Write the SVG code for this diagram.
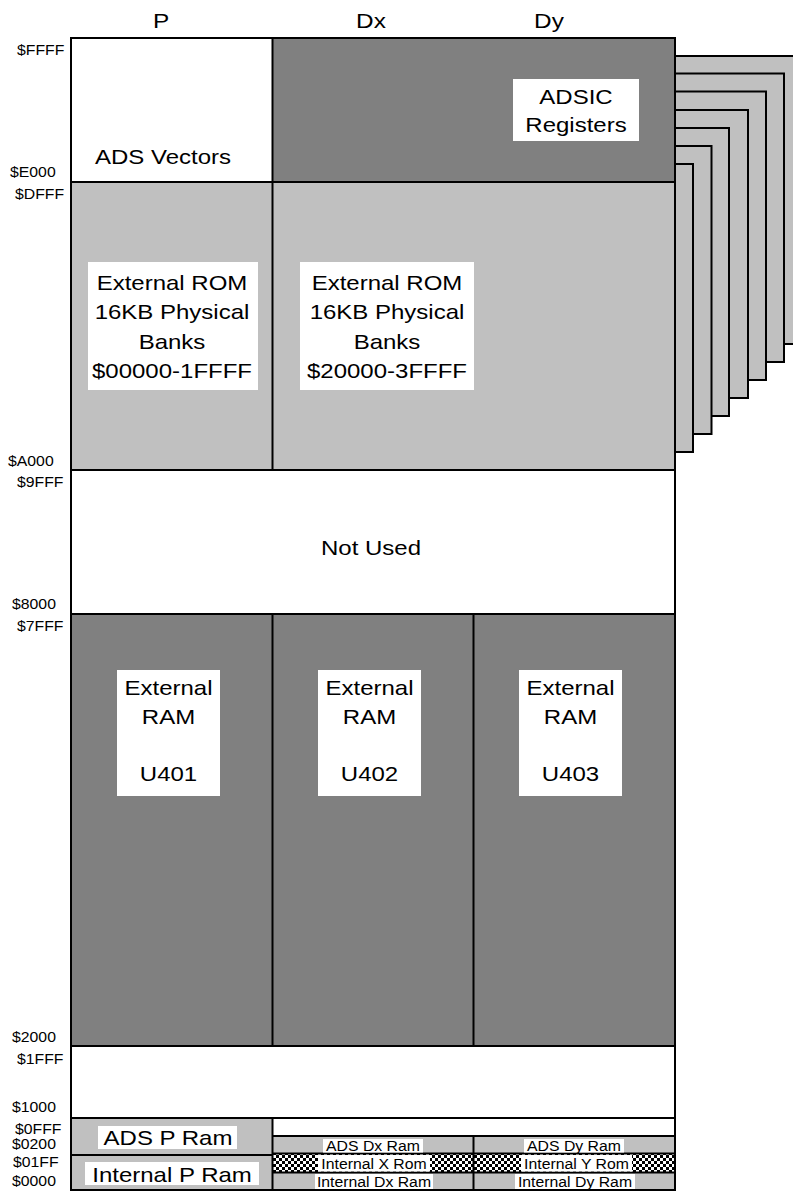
<svg xmlns="http://www.w3.org/2000/svg" width="793" height="1192" viewBox="0 0 793 1192">
<style>
text{font-family:"Liberation Sans",Arial,sans-serif;fill:#000}
.m{font-size:20px;text-anchor:middle}
.h{font-size:21px;text-anchor:middle}
.a{font-size:14.5px;text-anchor:start}
.s{font-size:14.5px;text-anchor:middle}
.pg{fill:#c0c0c0;stroke:#000;stroke-width:2}
.lb{fill:#fff}
.ln{fill:none;stroke:#000;stroke-width:2}
</style>
<defs>
<pattern id="chk" patternUnits="userSpaceOnUse" width="6" height="6">
<rect width="6" height="6" fill="#000"/>
<rect x="0" y="0" width="3" height="3" fill="#fff"/>
<rect x="3" y="3" width="3" height="3" fill="#fff"/>
</pattern>
</defs>
<g id="pages">
<rect class="pg" x="500" y="56" width="302" height="288"/>
<rect class="pg" x="480" y="73.5" width="304" height="288.5"/>
<rect class="pg" x="460" y="91.5" width="306" height="288.5"/>
<rect class="pg" x="440" y="110" width="308" height="288"/>
<rect class="pg" x="420" y="128" width="309" height="288"/>
<rect class="pg" x="400" y="146" width="311.5" height="288"/>
<rect class="pg" x="380" y="164" width="313" height="288"/>
</g>
<g id="fills">
<rect x="71" y="38" width="201.5" height="144" fill="#fff"/>
<rect x="272.5" y="38" width="402.5" height="144" fill="#808080"/>
<rect x="71" y="182" width="604" height="288" fill="#c0c0c0"/>
<rect x="71" y="470" width="604" height="144" fill="#fff"/>
<rect x="71" y="614" width="604" height="432" fill="#808080"/>
<rect x="71" y="1046" width="604" height="72" fill="#fff"/>
<rect x="71" y="1118" width="201.5" height="72" fill="#c0c0c0"/>
<rect x="272.5" y="1118" width="402.5" height="18" fill="#fff"/>
<rect x="272.5" y="1136" width="402.5" height="17.5" fill="#c0c0c0"/>
<rect x="272.5" y="1153.5" width="402.5" height="19" fill="url(#chk)"/>
<rect x="272.5" y="1172.5" width="402.5" height="17.5" fill="#c0c0c0"/>
</g>
<g id="connectors">
<rect class="ln" x="71" y="38" width="604" height="1152"/>
<path class="ln" d="M71 182H675M71 470H675M71 614H675M71 1046H675M71 1118H675M272.5 38V470M272.5 614V1046M272.5 1118V1190M473.5 614V1046M473.5 1136V1190M71 1155H272.5M272.5 1136H675M272.5 1153.5H675M272.5 1172.5H675"/>
</g>
<g id="headers">
<text class="h" transform="translate(161,28) scale(1.16,1)">P</text>
<text class="h" transform="translate(371,28) scale(1.16,1)">Dx</text>
<text class="h" transform="translate(549,28) scale(1.16,1)">Dy</text>
</g>
<g id="addresses">
<text class="a" transform="translate(17,55) scale(1.09,1)">$FFFF</text>
<text class="a" transform="translate(10,177) scale(1.09,1)">$E000</text>
<text class="a" transform="translate(15,199) scale(1.09,1)">$DFFF</text>
<text class="a" transform="translate(8,466) scale(1.09,1)">$A000</text>
<text class="a" transform="translate(17,487) scale(1.09,1)">$9FFF</text>
<text class="a" transform="translate(12,609) scale(1.09,1)">$8000</text>
<text class="a" transform="translate(17,631) scale(1.09,1)">$7FFF</text>
<text class="a" transform="translate(12,1042) scale(1.09,1)">$2000</text>
<text class="a" transform="translate(17,1064) scale(1.09,1)">$1FFF</text>
<text class="a" transform="translate(12,1112) scale(1.09,1)">$1000</text>
<text class="a" transform="translate(15,1134) scale(1.09,1)">$0FFF</text>
<text class="a" transform="translate(12,1149) scale(1.09,1)">$0200</text>
<text class="a" transform="translate(13,1167) scale(1.09,1)">$01FF</text>
<text class="a" transform="translate(12,1186) scale(1.09,1)">$0000</text>
</g>
<g id="ads-vectors">
<text class="m" transform="translate(163,164) scale(1.2,1)">ADS Vectors</text>
</g>
<g id="adsic-registers">
<rect class="lb" x="513" y="79" width="126" height="62"/>
<text class="m" transform="translate(576,104) scale(1.2,1)">ADSIC</text>
<text class="m" transform="translate(576,132) scale(1.2,1)">Registers</text>
</g>
<g id="rom-p">
<rect class="lb" x="88" y="262" width="170" height="128"/>
<text class="m" transform="translate(172,290) scale(1.2,1)">External ROM</text>
<text class="m" transform="translate(172,319) scale(1.2,1)">16KB Physical</text>
<text class="m" transform="translate(172,348.5) scale(1.2,1)">Banks</text>
<text class="m" transform="translate(172,378) scale(1.2,1)">$00000-1FFFF</text>
</g>
<g id="rom-dx">
<rect class="lb" x="300" y="262" width="174" height="128"/>
<text class="m" transform="translate(387,290) scale(1.2,1)">External ROM</text>
<text class="m" transform="translate(387,319) scale(1.2,1)">16KB Physical</text>
<text class="m" transform="translate(387,348.5) scale(1.2,1)">Banks</text>
<text class="m" transform="translate(387,378) scale(1.2,1)">$20000-3FFFF</text>
</g>
<g id="not-used">
<text class="m" transform="translate(371,555) scale(1.2,1)">Not Used</text>
</g>
<g id="ram-u401">
<rect class="lb" x="117" y="670" width="103" height="126"/>
<text class="m" transform="translate(168.5,695) scale(1.2,1)">External</text>
<text class="m" transform="translate(168.5,724) scale(1.2,1)">RAM</text>
<text class="m" transform="translate(168.5,781) scale(1.2,1)">U401</text>
</g>
<g id="ram-u402">
<rect class="lb" x="318" y="670" width="103" height="126"/>
<text class="m" transform="translate(369.5,695) scale(1.2,1)">External</text>
<text class="m" transform="translate(369.5,724) scale(1.2,1)">RAM</text>
<text class="m" transform="translate(369.5,781) scale(1.2,1)">U402</text>
</g>
<g id="ram-u403">
<rect class="lb" x="519" y="670" width="103" height="126"/>
<text class="m" transform="translate(570.5,695) scale(1.2,1)">External</text>
<text class="m" transform="translate(570.5,724) scale(1.2,1)">RAM</text>
<text class="m" transform="translate(570.5,781) scale(1.2,1)">U403</text>
</g>
<g id="ads-p-ram">
<rect class="lb" x="98" y="1126" width="139" height="23"/>
<text class="m" transform="translate(168,1145) scale(1.2,1)">ADS P Ram</text>
</g>
<g id="internal-p-ram">
<rect class="lb" x="85" y="1162" width="174" height="23"/>
<text class="m" transform="translate(172,1181.5) scale(1.2,1)">Internal P Ram</text>
</g>
<g id="ads-dx-ram">
<rect class="lb" x="323" y="1139" width="100" height="13.5"/>
<text class="s" transform="translate(373,1151) scale(1.09,1)">ADS Dx Ram</text>
</g>
<g id="ads-dy-ram">
<rect class="lb" x="524" y="1139" width="100" height="13.5"/>
<text class="s" transform="translate(574,1151) scale(1.09,1)">ADS Dy Ram</text>
</g>
<g id="internal-x-rom">
<rect class="lb" x="318" y="1155" width="112" height="16.5"/>
<text class="s" transform="translate(374,1169) scale(1.09,1)">Internal X Rom</text>
</g>
<g id="internal-y-rom">
<rect class="lb" x="521" y="1155" width="111" height="16.5"/>
<text class="s" transform="translate(576.5,1169) scale(1.09,1)">Internal Y Rom</text>
</g>
<g id="internal-dx-ram">
<rect class="lb" x="315" y="1174" width="118" height="15"/>
<text class="s" transform="translate(374,1187) scale(1.09,1)">Internal Dx Ram</text>
</g>
<g id="internal-dy-ram">
<rect class="lb" x="515" y="1174" width="120" height="15"/>
<text class="s" transform="translate(575,1187) scale(1.09,1)">Internal Dy Ram</text>
</g>
</svg>
